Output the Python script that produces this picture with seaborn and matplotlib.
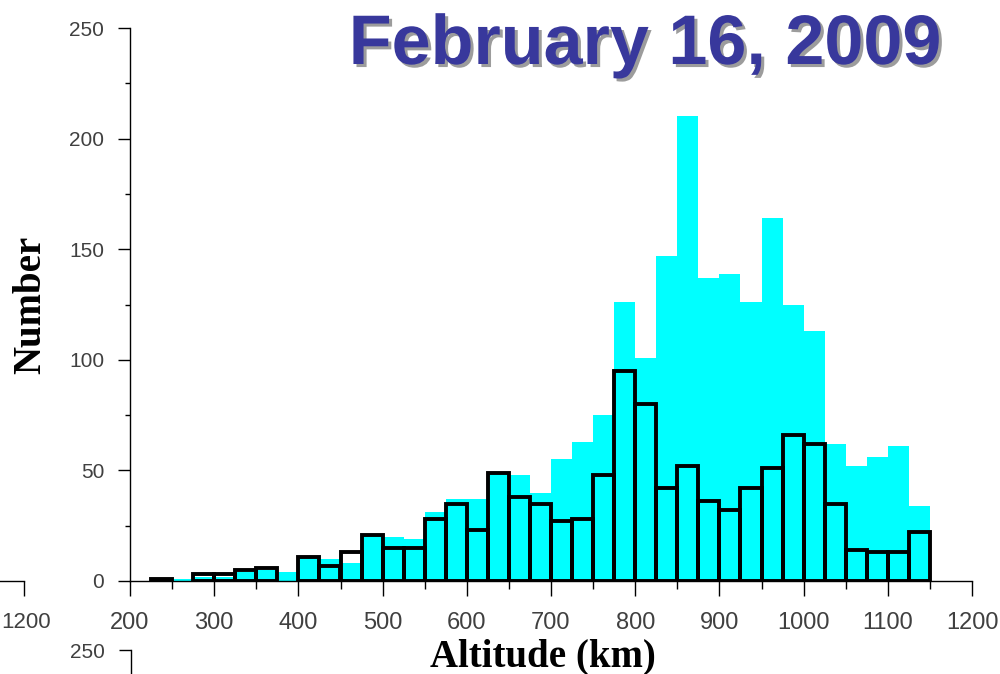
import matplotlib
matplotlib.use("Agg")
import numpy as np
import pandas as pd
import seaborn as sns
import matplotlib.pyplot as plt
import matplotlib.patheffects as pe

# Altitude bins (km), 25 km wide
bin_edges = list(range(225, 1175, 25))

# Counts per bin: all objects (cyan) and the outlined subset (black)
total_counts = [1, 1, 2, 2, 4, 5, 4, 11, 10, 8, 21, 20, 19, 31, 37, 37, 49, 48, 40,
                55, 63, 75, 126, 101, 147, 210, 137, 139, 126, 164, 125, 113, 62,
                52, 56, 61, 34]
subset_counts = [1, 0, 3, 3, 5, 6, 0, 11, 7, 13, 21, 15, 15, 28, 35, 23, 49, 38, 35,
                 27, 28, 48, 95, 80, 42, 52, 36, 32, 42, 51, 66, 62, 35, 14, 13, 13, 22]

x_ticks = [200, 300, 400, 500, 600, 700, 800, 900, 1000, 1100, 1200]
y_ticks = [0, 50, 100, 150, 200, 250]

title_text = "February 16, 2009"
x_label = "Altitude (km)"
y_label = "Number"

df = pd.DataFrame({
    "altitude": [e + 12.5 for e in bin_edges[:-1]],
    "total": total_counts,
    "subset": subset_counts,
})

sns.set_style("white")
plt.rcParams["font.family"] = ["Liberation Sans", "DejaVu Sans"]

W, H = 1000, 674
fig = plt.figure(figsize=(W / 100, H / 100), dpi=100)
fig.patch.set_facecolor("white")


def px_axes(x0, x1, ytop, ybot):
    return fig.add_axes([x0 / W, 1 - ybot / H, (x1 - x0) / W, (ybot - ytop) / H])


TICK_COLOR = "#404040"
NARROW = ["Liberation Sans Narrow", "Liberation Sans"]

# ---- main histogram -------------------------------------------------------
ax = px_axes(130, 972, 28, 581)
ax.set_facecolor("none")

sns.histplot(data=df, x="altitude", weights="total", bins=bin_edges,
             element="bars", fill=True, color="#00FFFF", alpha=1,
             linewidth=0, ax=ax, zorder=1)
n_before = len(ax.patches)
sns.histplot(data=df, x="altitude", weights="subset", bins=bin_edges,
             element="bars", fill=False, color="black", linewidth=2.8,
             ax=ax, zorder=3)
for p in ax.patches[n_before:]:
    if p.get_height() == 0:
        p.set_visible(False)
    p.set_joinstyle("miter")

ax.set_xlim(200, 1200)
ax.set_ylim(0, 250)

for side in ("top", "right"):
    ax.spines[side].set_visible(False)
for side in ("left", "bottom"):
    ax.spines[side].set_color("black")
    ax.spines[side].set_linewidth(1.0)
    ax.spines[side].set_zorder(2)

ax.set_xticks(x_ticks)
ax.set_xticklabels([str(t) for t in x_ticks], fontfamily=NARROW, fontsize=17,
                   color=TICK_COLOR)
ax.set_xticks(np.arange(250, 1200, 100), minor=True)
ax.set_yticks(y_ticks)
ax.set_yticklabels([str(t) for t in y_ticks], fontsize=15, color=TICK_COLOR)
ax.set_yticks(np.arange(25, 250, 50), minor=True)

ax.tick_params(axis="x", which="major", direction="out", length=11, width=1,
               pad=11, bottom=True, color="black")
ax.tick_params(axis="x", which="minor", direction="out", length=5.8, width=1,
               bottom=True, color="black")
ax.tick_params(axis="y", which="major", direction="out", length=8.6, width=1,
               pad=10, left=True, color="black")
ax.tick_params(axis="y", which="minor", direction="out", length=3.6, width=1,
               left=True, color="black")
ax.grid(False)

ax.set_xlabel(x_label, fontfamily="Liberation Serif", fontweight="bold",
              fontsize=28, color="black")
ax.xaxis.label.set_va("center")
ax.xaxis.set_label_coords((543 - 130) / 842, (581 - 657) / 553)
ax.set_ylabel(y_label, fontfamily="Liberation Serif", fontweight="bold",
              fontsize=28, color="black")
ax.yaxis.label.set_va("center")
ax.yaxis.set_label_coords((31 - 130) / 842, 0.5)

# ---- neighbouring panel edge on the left ---------------------------------
px_per_km = 842 / 1000
axl = px_axes(0, 24, 28, 581)
axl.set_facecolor("none")
axl.set_xlim(1200 - 24 / px_per_km, 1200)
axl.set_ylim(0, 250)
for side in ("top", "right", "left"):
    axl.spines[side].set_visible(False)
axl.spines["bottom"].set_color("black")
axl.spines["bottom"].set_linewidth(1.0)
axl.set_yticks([])
axl.set_xticks([1200])
axl.set_xticklabels([""])
axl.tick_params(axis="x", direction="out", length=11, width=1,
                bottom=True, color="black")
# its end label sits right against the figure edge
fig.text(1 / W, 1 - 622 / H, "1200", ha="left", va="center",
         fontfamily=NARROW, fontsize=16, color=TICK_COLOR)

# ---- neighbouring panel edge below ---------------------------------------
px_per_unit = 553 / 250
axb = px_axes(131, 972, 650, 700)
axb.set_facecolor("none")
axb.set_ylim(250 - 50 / px_per_unit, 250)
axb.set_xlim(200, 1200)
for side in ("top", "right", "bottom"):
    axb.spines[side].set_visible(False)
axb.spines["left"].set_color("black")
axb.spines["left"].set_linewidth(1.0)
axb.set_xticks([])
axb.set_yticks([250])
axb.set_yticklabels(["250"], fontsize=15, color=TICK_COLOR)
axb.tick_params(axis="y", direction="out", length=8.6, width=1, pad=10,
                left=True, color="black")

# ---- title ----------------------------------------------------------------
fig.text(645 / W, 1 - 46 / H, title_text, ha="center", va="center",
         fontsize=50.5, fontweight="bold", fontfamily="Liberation Sans",
         color="#38389C",
         path_effects=[pe.SimplePatchShadow(offset=(2.2, -2.2),
                                            shadow_rgbFace="#9c9c9c", alpha=1),
                       pe.Normal()])

fig.savefig("out.png", dpi=100, facecolor="white")
